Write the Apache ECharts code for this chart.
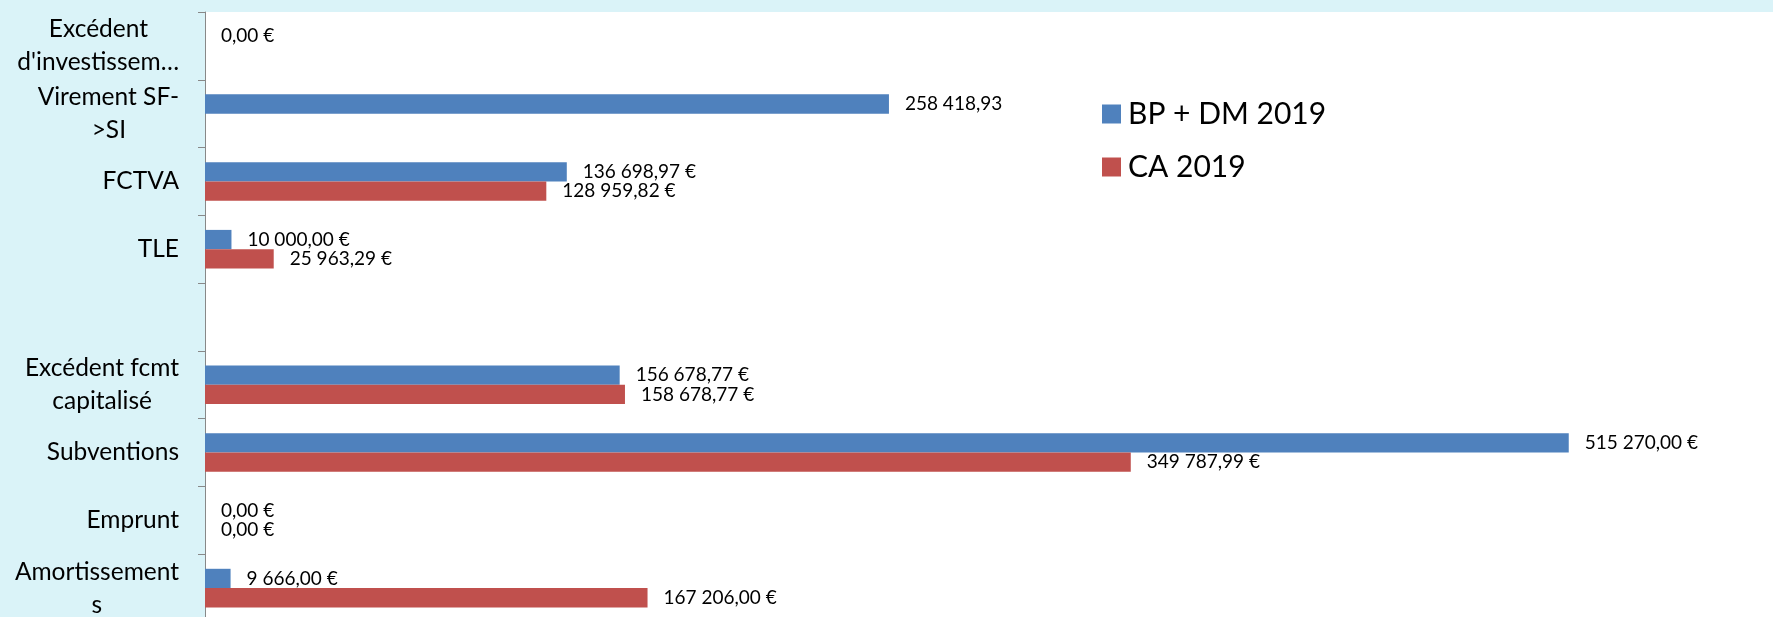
<!DOCTYPE html>
<html>
<head>
<meta charset="utf-8">
<script src="https://cdn.jsdelivr.net/npm/echarts@6/dist/echarts.min.js"></script>
<style>
  html, body { margin: 0; padding: 0; overflow: hidden; background: #DAF3F8; }
  #container { width: 1800px; height: 640px; }
</style>
</head>
<body>
<div id="container"></div>
<script>
'use strict';
var categories = [
    "Excédent\nd'investissem…",
    "Virement SF-\n>SI",
    "FCTVA",
    "TLE",
    "",
    "Excédent fcmt\ncapitalisé",
    "Subventions",
    "Emprunt",
    "Amortissement\ns"
];
var bpDm2019 = [0, 258418.93, 136698.97, 10000.00, null, 156678.77, 515270.00, 0, 9666.00];
var ca2019 = [null, null, 128959.82, 25963.29, null, 158678.77, 349787.99, 0, 167206.00];
// the one label shown without the euro sign
var noEuroLabel = ["Virement SF-\n>SI"];

var labelFont = 'Lato';
var axisFontSize = 24.5;

function formatEuro(v, cat) {
    var parts = v.toFixed(2).split('.');
    var intPart = parts[0].replace(/\B(?=(\d{3})+(?!\d))/g, ' ');
    var txt = intPart + ',' + parts[1];
    if (noEuroLabel.indexOf(cat) < 0) txt += ' €';
    return txt;
}

// multi-line category labels: each line centred under the longest one,
// done by right-aligning and padding the shorter lines
var ctx = document.createElement('canvas').getContext('2d');
ctx.font = axisFontSize + 'px ' + labelFont;
var rich = {};
categories.forEach(function (c, i) {
    var lines = c.split('\n');
    var widths = lines.map(function (l) { return ctx.measureText(l).width; });
    var w = Math.max.apply(null, widths);
    lines.forEach(function (l, j) {
        rich['c' + i + '_' + j] = {
            align: 'right',
            padding: [0, Math.round((w - widths[j]) / 2), 0, 0],
            fontSize: axisFontSize,
            fontFamily: labelFont,
            lineHeight: 33,
            color: '#000'
        };
    });
});

var dom = document.getElementById('container');
var myChart = echarts.init(dom);

function seriesLabel() {
    return {
        show: true,
        position: 'right',
        distance: 16,
        color: '#000',
        fontFamily: labelFont,
        fontSize: 19,
        formatter: function (p) {
            return formatEuro(p.value, p.name);
        }
    };
}

var option = {
    animation: false,
    backgroundColor: '#DAF3F8',
    grid: {
        show: true,
        backgroundColor: '#fff',
        borderWidth: 0,
        left: 205,
        top: 12,
        width: 1588,
        height: 610
    },
    legend: {
        orient: 'vertical',
        left: 1097,
        top: 94,
        itemWidth: 19,
        itemHeight: 19,
        itemGap: 23,
        icon: 'rect',
        textStyle: { fontFamily: labelFont, fontSize: 30, color: '#000', padding: [0, 0, 0, 2] },
        data: ['BP + DM 2019', 'CA 2019']
    },
    xAxis: {
        type: 'value',
        min: 0,
        max: 600000,
        show: false
    },
    yAxis: {
        type: 'category',
        inverse: true,
        data: categories,
        axisLine: { show: true, lineStyle: { color: '#888', width: 1 } },
        axisTick: { show: true, length: 7, lineStyle: { color: '#888' } },
        axisLabel: {
            interval: 0,
            margin: 26,
            color: '#000',
            fontFamily: labelFont,
            fontSize: axisFontSize,
            lineHeight: 33,
            rich: rich,
            formatter: function (value, index) {
                var lines = value.split('\n');
                if (lines.length < 2) return value;
                return lines.map(function (l, j) { return '{c' + index + '_' + j + '|' + l + '}'; }).join('\n');
            }
        }
    },
    series: [
        {
            name: 'BP + DM 2019',
            type: 'bar',
            data: bpDm2019,
            barGap: '0%',
            barCategoryGap: '43%',
            itemStyle: { color: '#4F81BD' },
            label: seriesLabel()
        },
        {
            name: 'CA 2019',
            type: 'bar',
            data: ca2019,
            barGap: '0%',
            barCategoryGap: '43%',
            itemStyle: { color: '#C0504D' },
            label: seriesLabel()
        }
    ]
};
myChart.setOption(option);
</script>
</body>
</html>
